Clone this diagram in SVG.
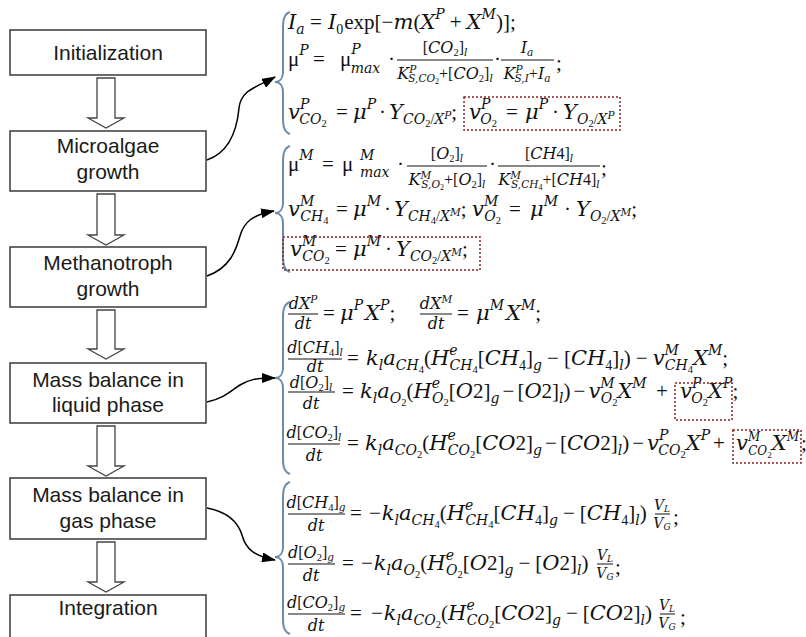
<svg xmlns="http://www.w3.org/2000/svg" width="806" height="637" viewBox="0 0 806 637">
<defs>
<marker id="ah" markerWidth="14" markerHeight="10" refX="13" refY="5" orient="auto" markerUnits="userSpaceOnUse">
<path d="M0,0 L14,5 L0,10 z" fill="#000"/>
</marker>
<style>
.box{fill:#fff;stroke:#3a3a3a;stroke-width:1.5}
.lbl{font-family:"Liberation Sans",Arial,sans-serif;font-size:21px;fill:#1a1a1a;text-anchor:middle}
.barr{fill:#fff;stroke:#444;stroke-width:1.3}
.con{fill:none;stroke:#000;stroke-width:1.5;marker-end:url(#ah)}
.brace{fill:none;stroke:#6b8bab;stroke-width:2}
.hl{fill:none;stroke:#8b2020;stroke-width:1.5;stroke-dasharray:2 2}
.eq{font-family:"DejaVu Serif","Liberation Serif",serif;font-style:italic;font-size:21px;fill:#111}
.f{font-size:16px}
.u{font-family:"Liberation Serif","DejaVu Serif",serif;font-style:normal}
.s{font-size:14px}
.ss{font-size:10.5px}
.vf{font-size:14px}
.bar{stroke:#111;stroke-width:1}
</style>
</defs>

<g id="n-init"><rect class="box" x="10" y="30" width="196" height="45"/><text class="lbl" x="108" y="60">Initialization</text></g>
<g id="n-micro"><rect class="box" x="10" y="131" width="196" height="60"/><text class="lbl" x="108" y="153">Microalgae</text><text class="lbl" x="108" y="179">growth</text></g>
<g id="n-meth"><rect class="box" x="10" y="247" width="196" height="60"/><text class="lbl" x="108" y="270">Methanotroph</text><text class="lbl" x="108" y="296">growth</text></g>
<g id="n-liq"><rect class="box" x="10" y="363" width="196" height="60"/><text class="lbl" x="108" y="387">Mass balance in</text><text class="lbl" x="108" y="412">liquid phase</text></g>
<g id="n-gas"><rect class="box" x="10" y="478" width="196" height="61"/><text class="lbl" x="108" y="502">Mass balance in</text><text class="lbl" x="108" y="528">gas phase</text></g>
<g id="n-int"><rect class="box" x="10" y="595" width="196" height="60"/><text class="lbl" x="108" y="615">Integration</text></g>

<g id="connectors">
<polygon class="barr" points="97,78 115,78 115,118 124,118 106,128 88,118 97,118"/>
<polygon class="barr" points="97,194 115,194 115,235 124,235 106,245 88,235 97,235"/>
<polygon class="barr" points="97,310 115,310 115,349 124,349 106,359 88,349 97,349"/>
<polygon class="barr" points="97,426 115,426 115,466 124,466 106,476 88,466 97,466"/>
<polygon class="barr" points="97,542 115,542 115,582 124,582 106,592 88,582 97,582"/>
<path class="con" d="M207,160 C230,152 237,130 239,108 C241,90 255,88 275,77"/>
<path class="con" d="M207,276 C230,268 236,250 240,236 C244,222 252,215 274,211"/>
<path class="con" d="M207,402 C225,398 232,390 240,385 C248,380 255,378 275,378"/>
<path class="con" d="M207,508 C228,512 238,522 242,535 C246,550 255,556 275,560"/>
</g>

<g id="eq-micro">
<path class="brace" d="M290,12 C284,14 283,20 283,28 L283,72 C283,78 280,82 275,82 C280,82 283,86 283,92 L283,118 C283,126 284,132 290,134"/>
<text class="eq"><tspan x="288" y="29">I</tspan><tspan class="s" y="34">a</tspan><tspan class="u" x="310" y="29">=</tspan><tspan x="328">I</tspan><tspan class="s u" y="34">0</tspan><tspan class="u" dx="1" y="29">exp[−</tspan><tspan>m</tspan><tspan class="u">(</tspan><tspan>X</tspan><tspan class="s" y="19">P</tspan><tspan class="u" dx="5" y="29">+</tspan><tspan dx="5">X</tspan><tspan class="s" y="19">M</tspan><tspan class="u" y="29">)];</tspan></text>
<text class="eq"><tspan class="u" x="288" y="66">μ</tspan><tspan class="s" y="55">P</tspan><tspan class="u" x="313" y="66">=</tspan><tspan class="u" x="340">μ</tspan><tspan class="s" y="54">P</tspan><tspan class="s" dx="-10" y="73">max</tspan><tspan class="u" x="388" y="66">·</tspan><tspan class="u" x="494">·</tspan><tspan class="u" x="556" y="70">;</tspan></text>
<line class="bar" x1="397" y1="60" x2="493" y2="60"/>
<text class="eq f" x="445" y="53" text-anchor="middle"><tspan class="u">[</tspan>CO<tspan class="ss u" dy="3">2</tspan><tspan class="u" dy="-3">]</tspan><tspan class="ss" dy="3">l</tspan></text>
<text class="eq f" x="445" y="79" text-anchor="middle">K<tspan class="ss" dy="-6">P</tspan><tspan class="ss" dx="-8" dy="9">S,CO</tspan><tspan class="u" dy="2" style="font-size:8px">2</tspan><tspan class="u" dy="-5">+[</tspan>CO<tspan class="ss u" dy="3">2</tspan><tspan class="u" dy="-3">]</tspan><tspan class="ss" dy="3">l</tspan></text>
<line class="bar" x1="501" y1="60" x2="554" y2="60"/>
<text class="eq f" x="527" y="53" text-anchor="middle">I<tspan class="ss" dy="3">a</tspan></text>
<text class="eq f" x="527" y="79" text-anchor="middle">K<tspan class="ss" dy="-6">P</tspan><tspan class="ss" dx="-8" dy="9">S,I</tspan><tspan class="u" dy="-3">+</tspan>I<tspan class="ss" dy="3">a</tspan></text>
<text class="eq"><tspan x="288" y="119">v</tspan><tspan class="s" y="109">P</tspan><tspan class="s" dx="-10" y="124">CO</tspan><tspan class="ss u" y="127">2</tspan><tspan class="u" x="336" y="119">=</tspan><tspan x="353">μ</tspan><tspan class="s" y="109">P</tspan><tspan class="u" dx="3" y="119">·</tspan><tspan dx="3">Y</tspan><tspan class="s" y="124">CO</tspan><tspan class="ss u" y="127">2</tspan><tspan class="s u" y="124">/</tspan><tspan class="s">X</tspan><tspan class="ss" y="119">P</tspan><tspan class="u" y="119">;</tspan><tspan x="469">v</tspan><tspan class="s" y="109">P</tspan><tspan class="s" dx="-10" y="124">O</tspan><tspan class="ss u" y="127">2</tspan><tspan class="u" x="506" y="119">=</tspan><tspan x="525">μ</tspan><tspan class="s" y="109">P</tspan><tspan class="u" dx="4" y="119">·</tspan><tspan dx="4">Y</tspan><tspan class="s" y="124">O</tspan><tspan class="ss u" y="127">2</tspan><tspan class="s u" y="124">/</tspan><tspan class="s">X</tspan><tspan class="ss" y="119">P</tspan></text>
<rect class="hl" x="464" y="97" width="156" height="33"/>
</g>

<g id="eq-meth">
<path class="brace" d="M290,146 C284,148 283,154 283,162 L283,203 C283,209 280,213 275,213 C280,213 283,217 283,223 L283,256 C283,264 284,270 290,272"/>
<text class="eq"><tspan class="u" x="288" y="171">μ</tspan><tspan class="s" y="160">M</tspan><tspan class="u" x="322" y="171">=</tspan><tspan class="u" x="342">μ</tspan><tspan class="s" x="360" y="160">M</tspan><tspan class="s" x="360" y="177">max</tspan><tspan class="u" x="397" y="171">·</tspan><tspan class="u" x="489">·</tspan><tspan class="u" x="601" y="175">;</tspan></text>
<line class="bar" x1="407" y1="166" x2="487" y2="166"/>
<text class="eq f" x="447" y="159" text-anchor="middle"><tspan class="u">[</tspan>O<tspan class="ss u" dy="3">2</tspan><tspan class="u" dy="-3">]</tspan><tspan class="ss" dy="3">l</tspan></text>
<text class="eq f" x="447" y="185" text-anchor="middle">K<tspan class="ss" dy="-6">M</tspan><tspan class="ss" dx="-10" dy="9">S,O</tspan><tspan class="u" dy="2" style="font-size:8px">2</tspan><tspan class="u" dy="-5">+[</tspan>O<tspan class="ss u" dy="3">2</tspan><tspan class="u" dy="-3">]</tspan><tspan class="ss" dy="3">l</tspan></text>
<line class="bar" x1="498" y1="166" x2="600" y2="166"/>
<text class="eq f" x="549" y="159" text-anchor="middle"><tspan class="u">[</tspan>CH<tspan class="u">4]</tspan><tspan class="ss" dy="3">l</tspan></text>
<text class="eq f" x="549" y="185" text-anchor="middle">K<tspan class="ss" dy="-6">M</tspan><tspan class="ss" dx="-10" dy="9">S,CH</tspan><tspan class="u" dy="2" style="font-size:8px">4</tspan><tspan class="u" dy="-5">+[</tspan>CH<tspan class="u">4]</tspan><tspan class="ss" dy="3">l</tspan></text>
<text class="eq"><tspan x="288" y="216">v</tspan><tspan class="s" y="206">M</tspan><tspan class="s" dx="-14" y="221">CH</tspan><tspan class="ss u" y="224">4</tspan><tspan class="u" x="336" y="216">=</tspan><tspan x="353">μ</tspan><tspan class="s" y="206">M</tspan><tspan class="u" dx="3" y="216">·</tspan><tspan dx="3">Y</tspan><tspan class="s" y="221">CH</tspan><tspan class="ss u" y="224">4</tspan><tspan class="s u" y="221">/</tspan><tspan class="s">X</tspan><tspan class="ss" y="216">M</tspan><tspan class="u" y="216">;</tspan><tspan x="472">v</tspan><tspan class="s" y="206">M</tspan><tspan class="s" dx="-14" y="221">O</tspan><tspan class="ss u" y="224">2</tspan><tspan class="u" x="509" y="216">=</tspan><tspan x="530">μ</tspan><tspan class="s" y="206">M</tspan><tspan class="u" dx="6" y="216">·</tspan><tspan dx="5">Y</tspan><tspan class="s" y="221">O</tspan><tspan class="ss u" y="224">2</tspan><tspan class="s u" y="221">/</tspan><tspan class="s">X</tspan><tspan class="ss" y="216">M</tspan><tspan class="u" y="216">;</tspan></text>
<text class="eq"><tspan x="290" y="256">v</tspan><tspan class="s" y="246">M</tspan><tspan class="s" dx="-14" y="261">CO</tspan><tspan class="ss u" y="264">2</tspan><tspan class="u" x="335" y="256">=</tspan><tspan x="353">μ</tspan><tspan class="s" y="246">M</tspan><tspan class="u" dx="4" y="256">·</tspan><tspan dx="4">Y</tspan><tspan class="s" y="261">CO</tspan><tspan class="ss u" y="264">2</tspan><tspan class="s u" y="261">/</tspan><tspan class="s">X</tspan><tspan class="ss" y="256">M</tspan><tspan class="u" y="256">;</tspan></text>
<rect class="hl" x="283" y="237" width="197" height="33"/>
</g>

<g id="eq-liquid">
<path class="brace" d="M290,302 C284,304 283,310 283,318 L283,368 C283,374 280,378 275,378 C280,378 283,382 283,388 L283,458 C283,466 284,472 290,474"/>
<line class="bar" x1="288" y1="314" x2="318" y2="314"/>
<text class="eq f" x="303" y="309" text-anchor="middle">dX<tspan class="ss" dy="-6">P</tspan></text>
<text class="eq f" x="303" y="329" text-anchor="middle">dt</text>
<line class="bar" x1="420" y1="314" x2="452" y2="314"/>
<text class="eq f" x="436" y="309" text-anchor="middle">dX<tspan class="ss" dy="-6">M</tspan></text>
<text class="eq f" x="436" y="329" text-anchor="middle">dt</text>
<text class="eq"><tspan class="u" x="323" y="320">=</tspan><tspan x="340">μ</tspan><tspan class="s" y="310">P</tspan><tspan dx="2" y="320">X</tspan><tspan class="s" y="310">P</tspan><tspan class="u" y="320">;</tspan><tspan class="u" x="457">=</tspan><tspan x="476">μ</tspan><tspan class="s" y="310">M</tspan><tspan dx="2" y="320">X</tspan><tspan class="s" y="310">M</tspan><tspan class="u" y="320">;</tspan></text>

<line class="bar" x1="288" y1="359" x2="342" y2="359"/>
<text class="eq f" x="315" y="353" text-anchor="middle">d<tspan class="u">[</tspan>CH<tspan class="ss u" dy="3">4</tspan><tspan class="u" dy="-3">]</tspan><tspan class="ss" dy="3">l</tspan></text>
<text class="eq f" x="315" y="372" text-anchor="middle">dt</text>
<text class="eq"><tspan class="u" x="347" y="365">=</tspan><tspan x="366">k</tspan><tspan class="s" y="370">l</tspan><tspan y="365">a</tspan><tspan class="s" y="370">CH</tspan><tspan class="ss u" y="373">4</tspan><tspan class="u" y="365">(</tspan><tspan>H</tspan><tspan class="s" y="355">e</tspan><tspan class="s" dx="-8" y="370">CH</tspan><tspan class="ss u" y="373">4</tspan><tspan class="u" y="365">[</tspan><tspan>CH</tspan><tspan class="s u" y="370">4</tspan><tspan class="u" y="365">]</tspan><tspan class="s" y="370">g</tspan><tspan class="u" dx="5" y="365">−</tspan><tspan class="u" dx="5">[</tspan><tspan>CH</tspan><tspan class="s u" y="370">4</tspan><tspan class="u" y="365">]</tspan><tspan class="s" y="370">l</tspan><tspan class="u" y="365">)</tspan><tspan class="u" dx="5">−</tspan><tspan dx="5">v</tspan><tspan class="s" y="355">M</tspan><tspan class="s" dx="-14" y="370">CH</tspan><tspan class="ss u" y="373">4</tspan><tspan y="365">X</tspan><tspan class="s" y="355">M</tspan><tspan class="u" y="365">;</tspan></text>

<line class="bar" x1="288" y1="392" x2="335" y2="392"/>
<text class="eq f" x="311" y="388" text-anchor="middle">d<tspan class="u">[</tspan>O<tspan class="ss u" dy="3">2</tspan><tspan class="u" dy="-3">]</tspan><tspan class="ss" dy="3">l</tspan></text>
<text class="eq f" x="311" y="409" text-anchor="middle">dt</text>
<text class="eq"><tspan class="u" x="342" y="398">=</tspan><tspan x="360">k</tspan><tspan class="s" y="403">l</tspan><tspan y="398">a</tspan><tspan class="s" y="403">O</tspan><tspan class="ss u" y="406">2</tspan><tspan class="u" y="398">(</tspan><tspan>H</tspan><tspan class="s" y="388">e</tspan><tspan class="s" dx="-8" y="403">O</tspan><tspan class="ss u" y="406">2</tspan><tspan class="u" y="398">[</tspan><tspan>O</tspan><tspan class="u">2]</tspan><tspan class="s" y="403">g</tspan><tspan class="u" dx="3" y="398">−</tspan><tspan class="u" dx="3">[</tspan><tspan>O</tspan><tspan class="u">2]</tspan><tspan class="s" y="403">l</tspan><tspan class="u" y="398">)</tspan><tspan class="u" dx="3">−</tspan><tspan dx="3">v</tspan><tspan class="s" y="388">M</tspan><tspan class="s" dx="-14" y="403">O</tspan><tspan class="ss u" y="406">2</tspan><tspan y="398">X</tspan><tspan class="s" y="388">M</tspan><tspan class="u" x="656" y="398">+</tspan><tspan x="680">v</tspan><tspan class="s" y="388">P</tspan><tspan class="s" dx="-10" y="403">O</tspan><tspan class="ss u" y="406">2</tspan><tspan y="398">X</tspan><tspan class="s" y="388">P</tspan><tspan class="u" y="398">;</tspan></text>
<rect class="hl" x="675" y="383" width="57" height="37"/>

<line class="bar" x1="288" y1="444" x2="340" y2="444"/>
<text class="eq f" x="314" y="438" text-anchor="middle">d<tspan class="u">[</tspan>CO<tspan class="ss u" dy="3">2</tspan><tspan class="u" dy="-3">]</tspan><tspan class="ss" dy="3">l</tspan></text>
<text class="eq f" x="314" y="461" text-anchor="middle">dt</text>
<text class="eq"><tspan class="u" x="347" y="450">=</tspan><tspan x="365">k</tspan><tspan class="s" y="455">l</tspan><tspan y="450">a</tspan><tspan class="s" y="455">CO</tspan><tspan class="ss u" y="458">2</tspan><tspan class="u" y="450">(</tspan><tspan>H</tspan><tspan class="s" y="440">e</tspan><tspan class="s" dx="-8" y="455">CO</tspan><tspan class="ss u" y="458">2</tspan><tspan class="u" y="450">[</tspan><tspan>CO</tspan><tspan class="u">2]</tspan><tspan class="s" y="455">g</tspan><tspan class="u" dx="3" y="450">−</tspan><tspan class="u" dx="3">[</tspan><tspan>CO</tspan><tspan class="u">2]</tspan><tspan class="s" y="455">l</tspan><tspan class="u" y="450">)</tspan><tspan class="u" dx="3">−</tspan><tspan dx="3">v</tspan><tspan class="s" y="440">P</tspan><tspan class="s" dx="-10" y="455">CO</tspan><tspan class="ss u" y="458">2</tspan><tspan y="450">X</tspan><tspan class="s" y="440">P</tspan><tspan class="u" x="713" y="450">+</tspan><tspan x="736">v</tspan><tspan class="s" style="font-size:12px" y="441">M</tspan><tspan class="s" style="font-size:12px" dx="-12" y="455">CO</tspan><tspan class="ss u" style="font-size:9px" y="458">2</tspan><tspan y="450">X</tspan><tspan class="s" style="font-size:12px" y="441">M</tspan><tspan class="u" x="801" y="450">;</tspan></text>
<rect class="hl" x="733" y="430" width="68" height="33"/>
</g>

<g id="eq-gas">
<path class="brace" d="M290,482 C284,484 283,490 283,498 L283,547 C283,553 280,557 275,557 C280,557 283,561 283,567 L283,618 C283,626 284,632 290,634"/>
<line class="bar" x1="288" y1="514" x2="345" y2="514"/>
<text class="eq f" x="316" y="508" text-anchor="middle">d<tspan class="u">[</tspan>CH<tspan class="ss u" dy="3">4</tspan><tspan class="u" dy="-3">]</tspan><tspan class="ss" dy="3">g</tspan></text>
<text class="eq f" x="316" y="531" text-anchor="middle">dt</text>
<text class="eq"><tspan class="u" x="350" y="520">=</tspan><tspan class="u" x="369">−</tspan><tspan dx="1">k</tspan><tspan class="s" y="525">l</tspan><tspan y="520">a</tspan><tspan class="s" y="525">CH</tspan><tspan class="ss u" y="528">4</tspan><tspan class="u" y="520">(</tspan><tspan>H</tspan><tspan class="s" y="510">e</tspan><tspan class="s" dx="-8" y="525">CH</tspan><tspan class="ss u" y="528">4</tspan><tspan class="u" y="520">[</tspan><tspan>CH</tspan><tspan class="s u" y="525">4</tspan><tspan class="u" y="520">]</tspan><tspan class="s" y="525">g</tspan><tspan class="u" dx="5" y="520">−</tspan><tspan class="u" dx="5">[</tspan><tspan>CH</tspan><tspan class="s u" y="525">4</tspan><tspan class="u" y="520">]</tspan><tspan class="s" y="525">l</tspan><tspan class="u" y="520">)</tspan><tspan class="u" x="673" y="524">;</tspan></text>
<line class="bar" x1="655" y1="514" x2="670" y2="514"/>
<text class="eq vf" x="662" y="510" text-anchor="middle">V<tspan style="font-size:9px" dy="2">L</tspan></text>
<text class="eq vf" x="662" y="528" text-anchor="middle">V<tspan style="font-size:9px" dy="2">G</tspan></text>

<line class="bar" x1="288" y1="564" x2="335" y2="564"/>
<text class="eq f" x="311" y="558" text-anchor="middle">d<tspan class="u">[</tspan>O<tspan class="ss u" dy="3">2</tspan><tspan class="u" dy="-3">]</tspan><tspan class="ss" dy="3">g</tspan></text>
<text class="eq f" x="311" y="581" text-anchor="middle">dt</text>
<text class="eq"><tspan class="u" x="342" y="570">=</tspan><tspan class="u" x="361">−</tspan><tspan dx="1">k</tspan><tspan class="s" y="575">l</tspan><tspan y="570">a</tspan><tspan class="s" y="575">O</tspan><tspan class="ss u" y="578">2</tspan><tspan class="u" y="570">(</tspan><tspan>H</tspan><tspan class="s" y="560">e</tspan><tspan class="s" dx="-8" y="575">O</tspan><tspan class="ss u" y="578">2</tspan><tspan class="u" y="570">[</tspan><tspan>O</tspan><tspan class="u">2]</tspan><tspan class="s" y="575">g</tspan><tspan class="u" dx="5" y="570">−</tspan><tspan class="u" dx="5">[</tspan><tspan>O</tspan><tspan class="u">2]</tspan><tspan class="s" y="575">l</tspan><tspan class="u" y="570">)</tspan><tspan class="u" x="615" y="574">;</tspan></text>
<line class="bar" x1="597" y1="564" x2="613" y2="564"/>
<text class="eq vf" x="605" y="560" text-anchor="middle">V<tspan style="font-size:9px" dy="2">L</tspan></text>
<text class="eq vf" x="605" y="578" text-anchor="middle">V<tspan style="font-size:9px" dy="2">G</tspan></text>

<line class="bar" x1="288" y1="614" x2="345" y2="614"/>
<text class="eq f" x="316" y="608" text-anchor="middle">d<tspan class="u">[</tspan>CO<tspan class="ss u" dy="3">2</tspan><tspan class="u" dy="-3">]</tspan><tspan class="ss" dy="3">g</tspan></text>
<text class="eq f" x="316" y="631" text-anchor="middle">dt</text>
<text class="eq"><tspan class="u" x="350" y="620">=</tspan><tspan class="u" x="371">−</tspan><tspan dx="1">k</tspan><tspan class="s" y="625">l</tspan><tspan y="620">a</tspan><tspan class="s" y="625">CO</tspan><tspan class="ss u" y="628">2</tspan><tspan class="u" y="620">(</tspan><tspan>H</tspan><tspan class="s" y="610">e</tspan><tspan class="s" dx="-8" y="625">CO</tspan><tspan class="ss u" y="628">2</tspan><tspan class="u" y="620">[</tspan><tspan>CO</tspan><tspan class="u">2]</tspan><tspan class="s" y="625">g</tspan><tspan class="u" dx="5" y="620">−</tspan><tspan class="u" dx="5">[</tspan><tspan>CO</tspan><tspan class="u">2]</tspan><tspan class="s" y="625">l</tspan><tspan class="u" y="620">)</tspan><tspan class="u" x="680" y="624">;</tspan></text>
<line class="bar" x1="660" y1="614" x2="675" y2="614"/>
<text class="eq vf" x="667" y="610" text-anchor="middle">V<tspan style="font-size:9px" dy="2">L</tspan></text>
<text class="eq vf" x="667" y="628" text-anchor="middle">V<tspan style="font-size:9px" dy="2">G</tspan></text>
</g>
</svg>
